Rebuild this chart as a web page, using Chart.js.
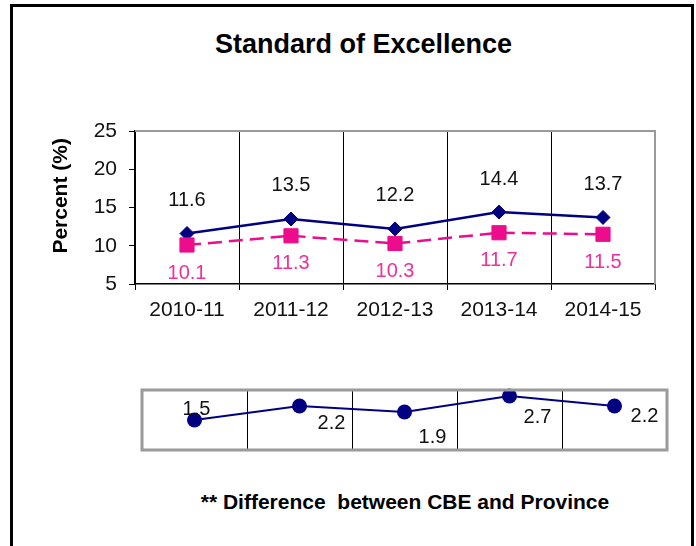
<!DOCTYPE html>
<html>
<head>
<meta charset="utf-8">
<script src="https://cdn.jsdelivr.net/npm/chart.js@4/dist/chart.umd.min.js"></script>
<style>
  html, body { margin: 0; padding: 0; background: #fff; }
  body { width: 696px; height: 546px; position: relative; overflow: hidden; font-family: "Liberation Sans", Arial, sans-serif; }
  #frame { position: absolute; left: 10px; top: 4px; width: 678px; height: 600px; border: 3px solid #000; box-sizing: content-box; }
  #title { position: absolute; left: 0; width: 727px; top: 29px; text-align: center; font-weight: bold; font-size: 27px; line-height: 30px; color: #000; }
  #note { position: absolute; left: 0; width: 810px; top: 490px; text-align: center; font-weight: bold; font-size: 21px; line-height: 24px; color: #000; white-space: pre; }
  #c1 { position: absolute; left: 0; top: 0; }
  #c2 { position: absolute; left: 0; top: 380px; }
</style>
</head>
<body>
<div id="frame"></div>
<div id="title">Standard of Excellence</div>
<canvas id="c1" width="696" height="330"></canvas>
<canvas id="c2" width="696" height="80"></canvas>
<div id="note">** Difference  between CBE and Province</div>
<script>
// ---- data ----
const categories = ['2010-11', '2011-12', '2012-13', '2013-14', '2014-15'];
const cbeValues = [11.6, 13.5, 12.2, 14.4, 13.7];
const provinceValues = [10.1, 11.3, 10.3, 11.7, 11.5];
const differenceValues = [1.5, 2.2, 1.9, 2.7, 2.2];
const yTicks = [5, 10, 15, 20, 25];

const NAVY = '#000080';
const PINK = '#EC0C8C';
const PINK_TEXT = '#F0309A';
const FONT = '"Liberation Sans", Arial, sans-serif';

// label drawing plugin (positions relative to points)
const labelPlugin = {
  id: 'pointLabels',
  afterDatasetsDraw(chart, args, opts) {
    const ctx = chart.ctx;
    ctx.save();
    ctx.font = '20px ' + FONT;
    ctx.textAlign = 'center';
    ctx.textBaseline = 'middle';
    chart.data.datasets.forEach((ds, di) => {
      const cfg = (opts.sets || [])[di];
      if (!cfg) return;
      const meta = chart.getDatasetMeta(di);
      meta.data.forEach((pt, i) => {
        const dx = Array.isArray(cfg.dx) ? cfg.dx[i] : (cfg.dx || 0);
        const dy = Array.isArray(cfg.dy) ? cfg.dy[i] : (cfg.dy || 0);
        ctx.fillStyle = cfg.color;
        ctx.fillText(String(ds.data[i]), pt.x + dx, pt.y + dy);
      });
    });
    ctx.restore();
  }
};

// gray border plugin
const borderPlugin = {
  id: 'grayBorder',
  afterDraw(chart, args, opts) {
    const a = chart.chartArea;
    const ctx = chart.ctx;
    ctx.save();
    ctx.strokeStyle = opts.color || '#8c8c8c';
    ctx.lineWidth = opts.width || 2;
    ctx.beginPath();
    if (opts.full) {
      ctx.rect(a.left, a.top, a.right - a.left, a.bottom - a.top);
    } else {
      ctx.moveTo(a.left, a.top);
      ctx.lineTo(a.right, a.top);
      ctx.lineTo(a.right, a.bottom);
    }
    ctx.stroke();
    ctx.restore();
  }
};

new Chart(document.getElementById('c1'), {
  type: 'line',
  data: {
    labels: categories,
    datasets: [
      {
        label: 'CBE',
        data: cbeValues,
        borderColor: NAVY,
        backgroundColor: NAVY,
        borderWidth: 2.5,
        pointStyle: 'rectRot',
        pointRadius: 7,
        pointBorderWidth: 1,
        tension: 0,
        order: 1,
        clip: false
      },
      {
        label: 'Province',
        data: provinceValues,
        borderColor: PINK,
        backgroundColor: PINK,
        borderWidth: 2.5,
        borderDash: [14, 7],
        pointStyle: 'rect',
        pointRadius: 10,
        pointBorderWidth: 1,
        tension: 0,
        order: 0,
        clip: false
      }
    ]
  },
  options: {
    responsive: false,
    animation: false,
    events: [],
    layout: { padding: { left: 46, right: 41, top: 131, bottom: 0 } },
    plugins: {
      legend: { display: false },
      tooltip: { enabled: false },
      title: { display: false },
      pointLabels: {
        sets: [
          { color: '#111', dx: 0, dy: -33 },
          { color: PINK_TEXT, dx: 0, dy: 28 }
        ]
      },
      grayBorder: { full: false, color: '#9a9a9a', width: 2 }
    },
    scales: {
      x: {
        type: 'category',
        offset: true,
        grid: { display: true, offset: true, color: '#000', lineWidth: 1, drawOnChartArea: true, drawTicks: true, tickLength: 6, tickColor: '#000' },
        border: { display: true, color: '#000', width: 1.5 },
        ticks: { color: '#111', font: { size: 21, family: FONT }, padding: 8, maxRotation: 0, autoSkip: false },
        afterFit(s) { s.height = 46; }
      },
      y: {
        min: 5, max: 25,
        afterBuildTicks(s) { s.ticks = yTicks.map(v => ({ value: v })); },
        grid: { drawOnChartArea: false, drawTicks: true, tickLength: 6, tickColor: '#000' },
        border: { display: true, color: '#000', width: 1.5 },
        ticks: { color: '#111', font: { size: 21, family: FONT }, padding: 12 },
        title: { display: true, text: '    Percent (%)', color: '#000', font: { size: 21, weight: 'bold', family: FONT }, padding: { top: 3, bottom: 4 } },
        afterFit(s) { s.width = 89; }
      }
    }
  },
  plugins: [labelPlugin, borderPlugin]
});

new Chart(document.getElementById('c2'), {
  type: 'line',
  data: {
    labels: categories,
    datasets: [
      {
        label: 'Difference',
        data: differenceValues,
        borderColor: NAVY,
        backgroundColor: NAVY,
        borderWidth: 2,
        pointStyle: 'circle',
        pointRadius: 7.5,
        pointBorderWidth: 0,
        tension: 0,
        clip: false
      }
    ]
  },
  options: {
    responsive: false,
    animation: false,
    events: [],
    layout: { padding: { left: 142, right: 29, top: 10, bottom: 10 } },
    plugins: {
      legend: { display: false },
      tooltip: { enabled: false },
      pointLabels: {
        sets: [
          { color: '#111', dx: [2, 32, 28, 28, 30], dy: [-11, 17, 25, 21, 10] }
        ]
      },
      grayBorder: { full: true, color: '#9a9a9a', width: 3 }
    },
    scales: {
      x: {
        type: 'category',
        offset: true,
        grid: { display: true, offset: true, color: '#000', lineWidth: 1, drawOnChartArea: true, drawTicks: false },
        border: { display: false },
        ticks: { display: false },
        afterFit(s) { s.height = 0; }
      },
      y: {
        display: false,
        min: 0, max: 3
      }
    }
  },
  plugins: [labelPlugin, borderPlugin]
});
</script>
</body>
</html>
